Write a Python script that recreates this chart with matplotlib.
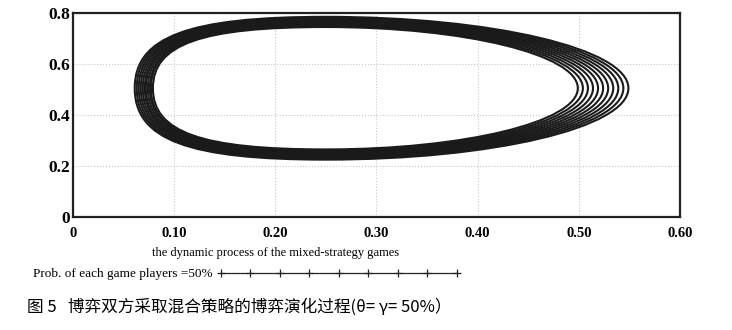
import matplotlib
matplotlib.use("Agg")
import matplotlib.pyplot as plt
from matplotlib.path import Path
from matplotlib.patches import PathPatch
from matplotlib.lines import Line2D

# orbits of the evolution process, outer to inner
orbit_left = [0.061, 0.063, 0.065, 0.067, 0.069, 0.071, 0.072, 0.074, 0.076, 0.077, 0.079]
orbit_right = [0.549, 0.544, 0.539, 0.534, 0.529, 0.524, 0.519, 0.514, 0.509, 0.504, 0.499]
orbit_top = [0.785, 0.781, 0.777, 0.773, 0.769, 0.765, 0.761, 0.757, 0.753, 0.749, 0.745]
orbit_bottom = [0.225, 0.229, 0.233, 0.237, 0.241, 0.245, 0.249, 0.253, 0.257, 0.261, 0.265]
orbit_peak_x = [0.25, 0.25, 0.25, 0.25, 0.25, 0.25, 0.25, 0.25, 0.25, 0.25, 0.25]

x_ticks = [0, 0.1, 0.2, 0.3, 0.4, 0.5, 0.6]
x_ticklabels = ["0", "0.10", "0.20", "0.30", "0.40", "0.50", "0.60"]
y_ticks = [0, 0.2, 0.4, 0.6, 0.8]
y_ticklabels = ["0", "0.2", "0.4", "0.6", "0.8"]

x_label = "the dynamic process of the mixed-strategy games"
legend_label = "Prob. of each game players =50%"
caption = "图 5   博弈双方采取混合策略的博弈演化过程(θ= γ= 50%）"

serif = ["Liberation Serif", "DejaVu Serif"]
cjk = ["Noto Sans CJK SC", "DejaVu Sans"]

fig = plt.figure(figsize=(7.32, 3.30), dpi=100)
ax = fig.add_axes([73 / 732, 1 - 217 / 330, 607 / 732, 204 / 330])


def orbit_path(xl, xr, yt, yb, xp, k_left=0.72, k_right=0.55):
    # closed loop from four extreme points, bezier quarters
    yc = (yt + yb) / 2
    verts = [
        (xl, yc),
        (xl, yc + k_left * (yt - yc)), (xp - k_left * (xp - xl), yt), (xp, yt),
        (xp + k_right * (xr - xp), yt), (xr, yc + k_right * (yt - yc)), (xr, yc),
        (xr, yc - k_right * (yc - yb)), (xp + k_right * (xr - xp), yb), (xp, yb),
        (xp - k_left * (xp - xl), yb), (xl, yc - k_left * (yc - yb)), (xl, yc),
    ]
    codes = [Path.MOVETO] + [Path.CURVE4] * 12
    return Path(verts, codes)


for xl, xr, yt, yb, xp in zip(orbit_left, orbit_right, orbit_top, orbit_bottom, orbit_peak_x):
    ax.add_patch(PathPatch(orbit_path(xl, xr, yt, yb, xp), fill=False,
                           edgecolor="#1a1a1a", lw=1.5, zorder=3))

ax.set_xlim(0, 0.6)
ax.set_ylim(0, 0.8)
ax.set_xticks(x_ticks)
ax.set_xticklabels(x_ticklabels, family=serif, fontsize=10.5, fontweight="bold")
ax.set_yticks(y_ticks)
ax.set_yticklabels(y_ticklabels, family=serif, fontsize=12.5, fontweight="bold")
ax.tick_params(length=0)
ax.tick_params(axis="x", pad=7)
ax.tick_params(axis="y", pad=2)
ax.grid(True, color="#c8c8c8", linestyle=":", lw=0.8, zorder=0)
ax.set_axisbelow(True)
for s in ax.spines.values():
    s.set_linewidth(1.6)
    s.set_color("#222222")

fig.text(276 / 732, 1 - 253 / 330, x_label, ha="center", va="center",
         family=serif, fontsize=9)

handle = Line2D([], [], color="#222222", lw=0.9, marker="+", markersize=6, mew=0.9)
fig.legend([handle], [legend_label], loc="center left",
           bbox_to_anchor=(33 / 732, 1 - 274 / 330), frameon=False,
           markerfirst=False, numpoints=9, handlelength=18.5, handletextpad=0.3,
           borderpad=0, borderaxespad=0, prop={"family": serif, "size": 9.5})

fig.text(27 / 732, 1 - 307 / 330, caption, ha="left", va="center",
         family=cjk, fontsize=12)

fig.savefig("out.png", dpi=100)
